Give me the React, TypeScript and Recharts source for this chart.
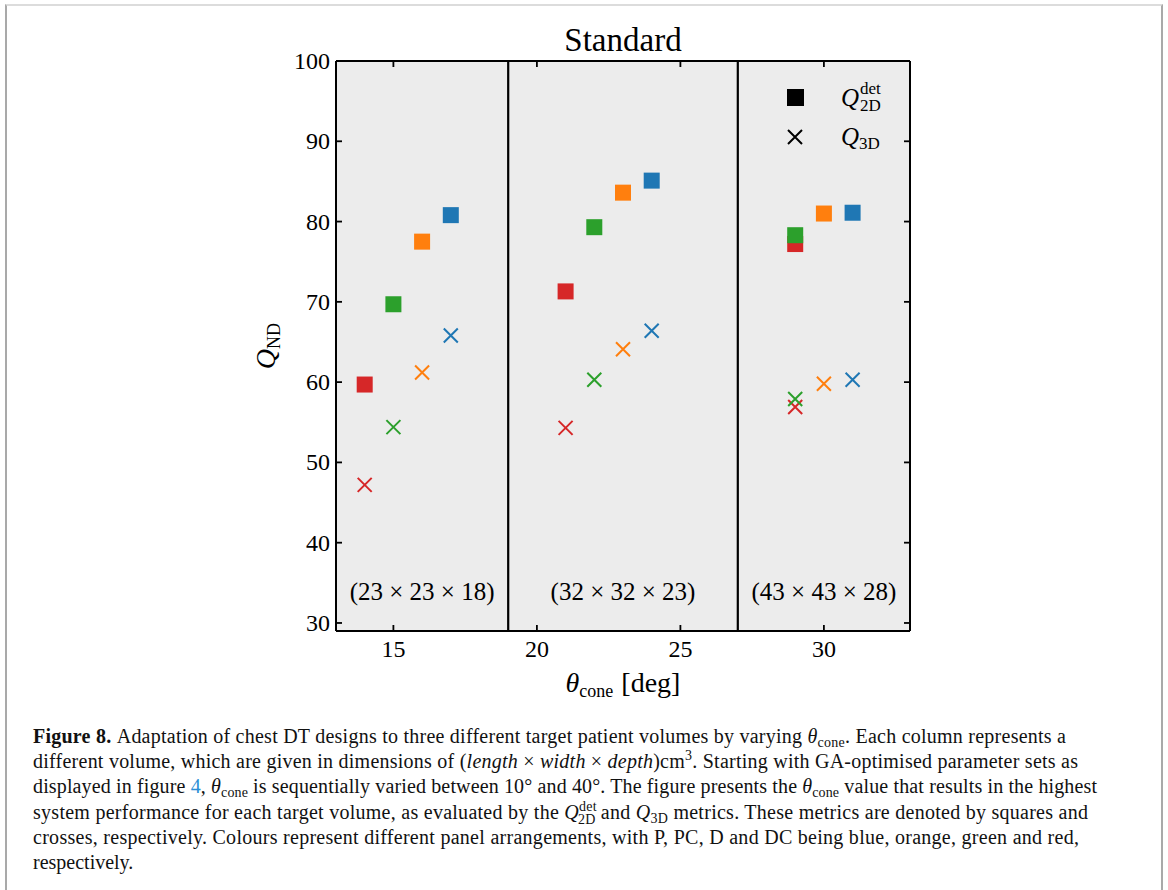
import React from "react";
import { ScatterChart, Scatter, XAxis, YAxis, CartesianGrid, ReferenceLine, ReferenceArea } from "recharts";

const xTicks = [15, 20, 25, 30];
const yTicks = [30, 40, 50, 60, 70, 80, 90, 100];
const panelEdges = [13, 19, 27, 33];
const panelVolumes = ["(23 × 23 × 18)", "(32 × 32 × 23)", "(43 × 43 × 28)"];

// best theta_cone for each volume, per panel arrangement
const thetaP = [17, 24, 31];
const thetaPC = [16, 23, 30];
const thetaD = [15, 22, 29];
const thetaDC = [14, 21, 29];

// Q_2D^det
const q2dP = [80.8, 85.1, 81.1];
const q2dPC = [77.5, 83.6, 81.0];
const q2dD = [69.7, 79.3, 78.3];
const q2dDC = [59.7, 71.3, 77.2];

// Q_3D
const q3dP = [65.8, 66.4, 60.3];
const q3dPC = [61.2, 64.1, 59.8];
const q3dD = [54.4, 60.3, 57.9];
const q3dDC = [47.2, 54.3, 56.9];

const FONT = "'Liberation Serif', 'DejaVu Serif', serif";

// drawing order: red, green, orange, blue (green ends up above red)
const arrangements = [
  { name: "DC", color: "#d62728", theta: thetaDC, q2d: q2dDC, q3d: q3dDC },
  { name: "D", color: "#2ca02c", theta: thetaD, q2d: q2dD, q3d: q3dD },
  { name: "PC", color: "#ff7f0e", theta: thetaPC, q2d: q2dPC, q3d: q3dPC },
  { name: "P", color: "#1f77b4", theta: thetaP, q2d: q2dP, q3d: q3dP },
];

const points = (xs: number[], ys: number[]) => xs.map((x, i) => ({ theta: x, q: ys[i] }));

const square = (color: string) => (p: any) => (
  <rect x={p.cx - 8} y={p.cy - 8} width={16} height={16} fill={color} />
);

const cross = (color: string) => (p: any) => {
  const r = 7;
  return (
    <path
      d={`M${p.cx - r},${p.cy - r}L${p.cx + r},${p.cy + r}M${p.cx - r},${p.cy + r}L${p.cx + r},${p.cy - r}`}
      stroke={color}
      strokeWidth={2}
      fill="none"
    />
  );
};

const TICK = 6;
const TICK_FONT = 24;

const BottomTick = ({ x, y, payload }: any) => (
  <g>
    <line x1={x} y1={y} x2={x} y2={y - TICK} stroke="#000" strokeWidth={1.8} />
    <text x={x} y={y + 26} textAnchor="middle" fontFamily={FONT} fontSize={TICK_FONT} fill="#000">
      {payload.value}
    </text>
  </g>
);

const LeftTick = ({ x, y, payload }: any) => (
  <g>
    <line x1={x} y1={y} x2={x + TICK} y2={y} stroke="#000" strokeWidth={1.8} />
    <text x={x - 6} y={y + 8} textAnchor="end" fontFamily={FONT} fontSize={TICK_FONT} fill="#000">
      {payload.value}
    </text>
  </g>
);

const TopTick = ({ x, y }: any) => <line x1={x} y1={y} x2={x} y2={y + TICK} stroke="#000" strokeWidth={1.8} />;

const RightTick = ({ x, y }: any) => <line x1={x} y1={y} x2={x - TICK} y2={y} stroke="#000" strokeWidth={1.8} />;

const XLabel = (props: any) => {
  const { x, y, width } = props.viewBox;
  return (
    <text x={x + width / 2} y={y + 61} textAnchor="middle" fontFamily={FONT} fontSize={28} fill="#000">
      <tspan fontStyle="italic">θ</tspan>
      <tspan fontSize={18} dy={5}>cone</tspan>
      <tspan dy={-5} dx={8}>[deg]</tspan>
    </text>
  );
};

const YLabel = (props: any) => {
  const { x, y, height } = props.viewBox;
  const cx = x - 1;
  const cy = y + height / 2;
  return (
    <text
      x={cx}
      y={cy}
      transform={`rotate(-90, ${cx}, ${cy})`}
      textAnchor="middle"
      fontFamily={FONT}
      fontSize={28}
      fill="#000"
    >
      <tspan fontStyle="italic">Q</tspan>
      <tspan fontSize={18} dy={5}>ND</tspan>
    </text>
  );
};

const Title = (props: any) => {
  const { x, y, width } = props.viewBox;
  return (
    <text x={x + width / 2} y={y - 9} textAnchor="middle" fontFamily={FONT} fontSize={33} fill="#000">
      Standard
    </text>
  );
};

const panelLabel = (text: string) => (props: any) => {
  const { x, y, width, height } = props.viewBox;
  return (
    <text x={x + width / 2} y={y + height - 31} textAnchor="middle" fontFamily={FONT} fontSize={25} fill="#000">
      {text}
    </text>
  );
};

const Legend = () => (
  <svg width={1168} height={700} style={{ position: "absolute", left: 0, top: 0, pointerEvents: "none" }}>
    <rect x={787} y={89} width={17} height={17} fill="#000" />
    <text x={841} y={106} fontFamily={FONT} fontSize={25} fill="#000">
      <tspan fontStyle="italic">Q</tspan>
    </text>
    <text x={860} y={94} fontFamily={FONT} fontSize={17} fill="#000">det</text>
    <text x={860} y={111} fontFamily={FONT} fontSize={17} fill="#000">2D</text>
    <path d="M788,130L802,144M788,144L802,130" stroke="#000" strokeWidth={2} />
    <text x={841} y={145} fontFamily={FONT} fontSize={25} fill="#000">
      <tspan fontStyle="italic">Q</tspan>
      <tspan fontSize={17} dy={4}>3D</tspan>
    </text>
  </svg>
);

const Caption = () => (
  <svg width={1168} height={190} style={{ position: "absolute", left: 0, top: 700 }} fontFamily={FONT} fontSize={20} fill="#111">
    <text x={33} y={43} textLength={1033} lengthAdjust="spacing">
      <tspan fontWeight="bold">{"Figure 8. "}</tspan>
      {"Adaptation of chest DT designs to three different target patient volumes by varying "}
      <tspan fontStyle="italic">θ</tspan>
      <tspan fontSize={14} dy={4}>cone</tspan>
      <tspan dy={-4}>{". Each column represents a"}</tspan>
    </text>
    <text x={33} y={68} textLength={1045} lengthAdjust="spacing">
      {"different volume, which are given in dimensions of ("}
      <tspan fontStyle="italic">length</tspan>
      {" × "}
      <tspan fontStyle="italic">width</tspan>
      {" × "}
      <tspan fontStyle="italic">depth</tspan>
      {")cm"}
      <tspan fontSize={14} dy={-8}>3</tspan>
      <tspan dy={8}>{". Starting with GA-optimised parameter sets as"}</tspan>
    </text>
    <text x={33} y={93} textLength={1064} lengthAdjust="spacing">
      {"displayed in figure "}
      <tspan fill="#2a8fd6">4</tspan>
      {", "}
      <tspan fontStyle="italic">θ</tspan>
      <tspan fontSize={14} dy={4}>cone</tspan>
      <tspan dy={-4}>{" is sequentially varied between 10° and 40°. The figure presents the "}</tspan>
      <tspan fontStyle="italic">θ</tspan>
      <tspan fontSize={14} dy={4}>cone</tspan>
      <tspan dy={-4}>{" value that results in the highest"}</tspan>
    </text>
    <text x={33} y={119} textLength={1055} lengthAdjust="spacing">
      {"system performance for each target volume, as evaluated by the "}
      <tspan fontStyle="italic">Q</tspan>
      <tspan fontSize={14} dy={-8}>det</tspan>
      <tspan fontSize={14} dx={-19} dy={13}>2D</tspan>
      <tspan dy={-5}>{" and "}</tspan>
      <tspan fontStyle="italic">Q</tspan>
      <tspan fontSize={14} dy={4}>3D</tspan>
      <tspan dy={-4}>{" metrics. These metrics are denoted by squares and"}</tspan>
    </text>
    <text x={33} y={144} textLength={1046} lengthAdjust="spacing">
      {"crosses, respectively. Colours represent different panel arrangements, with P, PC, D and DC being blue, orange, green and red,"}
    </text>
    <text x={33} y={169}>{"respectively."}</text>
  </svg>
);

export default function App() {
  return (
    <div style={{ position: "absolute", left: 0, top: 0, width: 1168, height: 890, overflow: "hidden", background: "#fff" }}>
      <div
        style={{
          position: "absolute",
          left: 5,
          top: 4,
          width: 1154,
          height: 920,
          borderLeft: "2px solid #a9a9a9",
          borderRight: "2px solid #a9a9a9",
          borderTop: "2px solid #dcdcdc",
        }}
      />
      <div style={{ position: "absolute", left: 0, top: 0 }}>
        <ScatterChart width={1168} height={700} margin={{ top: 60, right: 257, bottom: 9, left: 276 }}>
          <CartesianGrid xAxisId="main" yAxisId="main" horizontal={false} vertical={false} fill="#ececec" fillOpacity={1} />
          <XAxis
            xAxisId="main"
            dataKey="theta"
            type="number"
            domain={[13, 33]}
            ticks={xTicks}
            allowDataOverflow
            height={60}
            tickSize={0}
            tickMargin={0}
            tickLine={false}
            tick={<BottomTick />}
            axisLine={{ stroke: "#000", strokeWidth: 2 }}
            label={XLabel}
          />
          <XAxis
            xAxisId="top"
            orientation="top"
            dataKey="theta"
            type="number"
            domain={[13, 33]}
            ticks={xTicks}
            allowDataOverflow
            height={1}
            tickSize={0}
            tickMargin={0}
            tickLine={false}
            tick={<TopTick />}
            axisLine={{ stroke: "#000", strokeWidth: 2 }}
            label={Title}
          />
          <YAxis
            yAxisId="main"
            dataKey="q"
            type="number"
            domain={[29, 100]}
            ticks={yTicks}
            allowDataOverflow
            width={60}
            tickSize={0}
            tickMargin={0}
            tickLine={false}
            tick={<LeftTick />}
            axisLine={{ stroke: "#000", strokeWidth: 2 }}
            label={YLabel}
          />
          <YAxis
            yAxisId="right"
            orientation="right"
            dataKey="q"
            type="number"
            domain={[29, 100]}
            ticks={yTicks}
            allowDataOverflow
            width={1}
            tickSize={0}
            tickMargin={0}
            tickLine={false}
            tick={<RightTick />}
            axisLine={{ stroke: "#000", strokeWidth: 2 }}
          />
          {panelVolumes.map((v, i) => (
            <ReferenceArea
              key={v}
              xAxisId="main"
              yAxisId="main"
              x1={panelEdges[i]}
              x2={panelEdges[i + 1]}
              fill="none"
              fillOpacity={0}
              strokeOpacity={0}
              label={panelLabel(v)}
            />
          ))}
          {panelEdges.slice(1, -1).map((e) => (
            <ReferenceLine key={e} xAxisId="main" yAxisId="main" x={e} stroke="#000" strokeWidth={2.2} />
          ))}
          {arrangements.map((a) => (
            <Scatter
              key={"sq" + a.name}
              xAxisId="main"
              yAxisId="main"
              data={points(a.theta, a.q2d)}
              fill={a.color}
              shape={square(a.color)}
              isAnimationActive={false}
            />
          ))}
          {/* crosses use the mirrored top/right axes (same domains) so those axes are drawn too */}
          {arrangements.map((a) => (
            <Scatter
              key={"x" + a.name}
              xAxisId="top"
              yAxisId="right"
              data={points(a.theta, a.q3d)}
              fill={a.color}
              shape={cross(a.color)}
              isAnimationActive={false}
            />
          ))}
        </ScatterChart>
      </div>
      <Legend />
      <Caption />
    </div>
  );
}
